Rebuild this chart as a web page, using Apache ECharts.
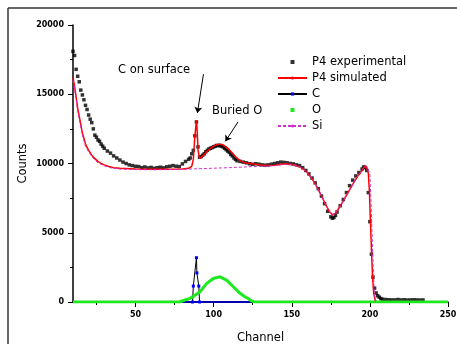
<!DOCTYPE html>
<html>
<head>
<meta charset="utf-8">
<script src="https://cdn.jsdelivr.net/npm/echarts@6/dist/echarts.min.js"></script>
<style>
  html, body { margin: 0; padding: 0; background: #fff; }
  #chart { width: 457px; height: 344px; }
</style>
</head>
<body>
<div id="chart"></div>
<script>
// channel, counts
const expData = [
  [10, 18100], [11, 17800], [12, 16800], [13, 16300], [14, 15900], [15, 15300],
  [16, 14950], [17, 14600], [18, 14200], [19, 13900], [20, 13500], [21, 13200],
  [22, 12950], [23, 12500], [24, 12050], [25, 11900], [26, 11700], [27, 11600],
  [28, 11400], [29, 11250], [30, 11100], [32, 10900], [34, 10750], [36, 10550],
  [38, 10400], [40, 10250], [42, 10100], [44, 10000], [46, 9900], [48, 9850],
  [50, 9800], [52, 9780], [54, 9700], [56, 9750], [58, 9680], [60, 9720],
  [62, 9650], [64, 9700], [66, 9730], [68, 9680], [70, 9760], [72, 9800],
  [74, 9850], [76, 9800], [78, 9780], [80, 9970], [82, 10150], [84, 10300],
  [85, 10400], [86, 10700], [87, 10950], [88, 12000], [89, 13000], [90, 11200],
  [91, 10450], [92, 10500], [93, 10600], [94, 10700], [95, 10850], [96, 10950],
  [97, 11050], [98, 11100], [99, 11150], [100, 11200], [101, 11250], [102, 11300],
  [103, 11300], [104, 11300], [105, 11250], [106, 11200], [107, 11100], [108, 11000],
  [109, 10900], [110, 10800], [111, 10650], [112, 10550], [113, 10400], [114, 10300],
  [115, 10200], [117, 10150], [119, 10100], [121, 10050], [123, 9980], [125, 9950],
  [127, 9980], [129, 9950], [131, 9900], [133, 9880], [135, 9900], [137, 9950],
  [139, 10000], [141, 10050], [143, 10100], [145, 10080], [147, 10050], [149, 10000],
  [151, 9970], [153, 9900], [155, 9850], [157, 9700], [159, 9500], [161, 9250],
  [163, 8950], [165, 8600], [167, 8180], [169, 7650], [171, 7100], [173, 6550],
  [175, 6150], [176, 6050], [177, 6100], [178, 6250], [179, 6500], [181, 6950],
  [183, 7400], [185, 7900], [187, 8400], [189, 8800], [191, 9100], [193, 9350],
  [195, 9600], [196, 9750], [197, 9700], [198, 9500], [199, 7900], [200, 5800],
  [201, 3450], [202, 1800], [203, 1000], [204, 650], [205, 450], [206, 350],
  [207, 250], [208, 200], [210, 180], [212, 160], [214, 150], [216, 150],
  [218, 180], [220, 150], [222, 160], [224, 140], [226, 150], [228, 160],
  [230, 150], [232, 140], [234, 150]
];

const simData = [
  [10, 16200], [11, 15600], [12, 14800], [13, 14000], [14, 13400], [15, 12800],
  [16, 12200], [17, 11800], [18, 11400], [20, 10950], [22, 10600], [24, 10350],
  [26, 10150], [28, 10000], [30, 9900], [33, 9780], [36, 9700], [40, 9650],
  [50, 9600], [60, 9580], [70, 9580], [80, 9600], [84, 9650], [86, 9800],
  [87, 10300], [88, 12000], [89, 13100], [89.5, 12300], [90, 11000], [91, 10350],
  [92, 10400], [94, 10650], [96, 10900], [98, 11100], [100, 11250], [102, 11350],
  [104, 11400], [106, 11350], [108, 11200], [110, 11000], [112, 10750], [114, 10500],
  [116, 10300], [118, 10150], [120, 10050], [125, 9980], [130, 9900], [135, 9850],
  [140, 9880], [143, 9950], [146, 9980], [150, 9930], [153, 9850], [156, 9700],
  [159, 9450], [162, 9050], [165, 8550], [168, 7900], [171, 7200], [174, 6550],
  [176, 6300], [178, 6400], [180, 6750], [183, 7300], [186, 7900], [189, 8500],
  [192, 9050], [195, 9500], [197, 9850], [198, 9700], [199, 9300], [199.7, 8000],
  [200.3, 6000], [201, 3800], [201.7, 1800], [202.5, 600], [203.5, 100], [204.5, 0]
];

const cData = [
  [86.5, 0], [87, 1150], [89, 3200], [89.3, 2100], [90.5, 1150], [91, 0]
];
const cBaseline = [[10, 0], [250, 0]];

const oData = [
  [10, 0], [78, 0], [81.7, 145], [84.9, 265], [88, 480], [91.3, 740],
  [95.6, 1345], [99.8, 1700], [104, 1820], [108.3, 1580], [112.6, 1100],
  [116.9, 625], [120, 380], [122, 265], [124, 95], [126, 0], [250, 0]
];

const siData = [
  [10, 16000], [11, 15400], [12, 14600], [13, 13800], [14, 13200], [15, 12600],
  [16, 12050], [17, 11650], [18, 11250], [20, 10850], [22, 10500], [24, 10250],
  [26, 10050], [28, 9930], [30, 9830], [33, 9720], [36, 9650], [40, 9600],
  [50, 9560], [60, 9550], [70, 9560], [80, 9580], [90, 9620], [100, 9660],
  [110, 9700], [120, 9750], [130, 9800], [140, 9850], [146, 9950], [150, 9930],
  [153, 9850], [156, 9700], [159, 9450], [162, 9050], [165, 8550], [168, 7900],
  [171, 7200], [174, 6550], [176, 6300], [178, 6400], [180, 6750], [183, 7300],
  [186, 7900], [189, 8500], [192, 9050], [195, 9500], [197, 9850], [198.5, 9750],
  [200, 9200], [200.8, 7000], [201.5, 4500], [202.3, 2000], [203, 500], [203.5, 0]
];

const xMajorTicks = [50, 100, 150, 200, 250];
const xMinorTicks = [25, 75, 125, 175, 225];

// annotation arrows: [from, to] in channel/counts
const arrows = [
  [[93.5, 16450], [89.6, 13650]],
  [[115.6, 13000], [107.5, 11600]]
];

const FONT = "DejaVu Sans";
const SQUARE = "path://M0,0L1,0L1,1L0,1Z";
const chart = echarts.init(document.getElementById("chart"));

chart.setOption({
  animation: false,
  backgroundColor: "#fff",
  grid: { left: 73, right: 9, top: 25, bottom: 42, outerBoundsMode: "none" },
  legend: {
    orient: "vertical",
    left: 277,
    top: 56,
    padding: 0,
    itemWidth: 29,
    itemHeight: 4,
    itemGap: 4,
    symbolKeepAspect: true,
    textStyle: { fontFamily: FONT, fontSize: 11.5, color: "#000" },
    data: [
      { name: "P4 experimental", icon: SQUARE },
      "P4 simulated",
      "C",
      { name: "O", icon: SQUARE },
      "Si"
    ]
  },
  xAxis: [
    {
      type: "value",
      min: 10,
      max: 250,
      name: "Channel",
      nameLocation: "middle",
      nameGap: 30,
      nameMoveOverlap: false,
      nameTextStyle: { fontFamily: FONT, fontSize: 11.5, color: "#000", verticalAlign: "top" },
      axisLine: { lineStyle: { color: "#000", width: 1.5 } },
      axisTick: { customValues: xMajorTicks, length: 5, lineStyle: { color: "#000" } },
      axisLabel: {
        customValues: xMajorTicks,
        margin: 9,
        fontFamily: FONT,
        fontSize: 8,
        fontWeight: "bold",
        color: "#000"
      },
      splitLine: { show: false }
    },
    {
      type: "value",
      min: 10,
      max: 250,
      position: "bottom",
      axisLine: { show: false },
      axisTick: { customValues: xMinorTicks, length: 3, lineStyle: { color: "#000" } },
      axisLabel: { show: false },
      splitLine: { show: false }
    }
  ],
  yAxis: {
    type: "value",
    min: 0,
    max: 20000,
    interval: 5000,
    name: "Counts",
    nameLocation: "middle",
    nameGap: 44,
    nameMoveOverlap: false,
    nameTextStyle: { fontFamily: FONT, fontSize: 11.5, color: "#000" },
    axisLine: { show: true, lineStyle: { color: "#000", width: 1.5 } },
    axisTick: { show: true, length: 5, lineStyle: { color: "#000" } },
    minorTick: { show: true, splitNumber: 2, length: 3, lineStyle: { color: "#000" } },
    axisLabel: {
      margin: 9,
      fontFamily: FONT,
      fontSize: 8,
      fontWeight: "bold",
      color: "#000",
      formatter: v => String(v)
    },
    splitLine: { show: false }
  },
  series: [
    {
      name: "P4 experimental",
      type: "scatter",
      data: expData,
      symbol: "rect",
      symbolSize: 3.5,
      itemStyle: { color: "#000" },
      markLine: {
        silent: true,
        symbol: ["none", "arrow"],
        symbolSize: 6,
        label: { show: false },
        lineStyle: { color: "#000", width: 1, type: "solid" },
        data: arrows.map(a => [{ coord: a[0] }, { coord: a[1] }])
      }
    },
    {
      name: "P4 simulated",
      type: "line",
      data: simData,
      showSymbol: false,
      symbol: "none",
      lineStyle: { color: "#ff0000", width: 1.5 },
      itemStyle: { color: "#ff0000" }
    },
    {
      name: "C",
      type: "line",
      data: cData,
      symbol: "rect",
      symbolSize: 3,
      showSymbol: true,
      lineStyle: { color: "#000", width: 1 },
      itemStyle: { color: "#0000ff" },
      z: 3
    },
    {
      name: "C",
      type: "line",
      data: cBaseline,
      showSymbol: false,
      symbol: "none",
      lineStyle: { color: "#0000b0", width: 2 },
      itemStyle: { color: "#0000ff" }
    },
    {
      name: "O",
      type: "line",
      data: oData,
      showSymbol: false,
      symbol: "none",
      lineStyle: { color: "#1ee81e", width: 3 },
      itemStyle: { color: "#1ee81e" }
    },
    {
      name: "Si",
      type: "line",
      data: siData,
      showSymbol: false,
      symbol: "none",
      lineStyle: { color: "#cc33cc", width: 1, type: [3, 2] },
      itemStyle: { color: "#cc33cc" }
    }
  ],
  graphic: [
    { type: "line", shape: { x1: 8, y1: 8, x2: 457, y2: 8 }, style: { stroke: "#333", lineWidth: 1.5 } },
    { type: "line", shape: { x1: 8, y1: 8, x2: 8, y2: 344 }, style: { stroke: "#333", lineWidth: 1.5 } },
    {
      type: "text",
      left: 118,
      top: 64,
      style: { text: "C on surface", font: "11.5px " + FONT, fill: "#000" }
    },
    {
      type: "text",
      left: 212,
      top: 105,
      style: { text: "Buried O", font: "11.5px " + FONT, fill: "#000" }
    }
  ]
});
</script>
</body>
</html>
